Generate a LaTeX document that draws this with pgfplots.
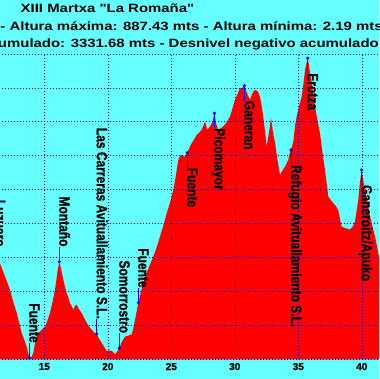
\documentclass[border=0pt]{standalone}
\usepackage{pgfplots}
\pgfplotsset{compat=1.18}
\usepackage{fontspec}
\usepackage{graphicx}
\setmainfont{Liberation Sans}
\newfontfamily\stretchfont{Liberation Sans}[FakeStretch=1.245]
\newfontfamily\labelfont{Liberation Sans}[BoldFeatures={FakeBold=1.2}]
\definecolor{bgcyan}{RGB}{102,255,255}
\definecolor{profred}{RGB}{255,0,0}
\definecolor{gridblue}{RGB}{0,0,255}

\pgfplotstableread{
km alt
10.5 240
10.8 270
11.12 290
11.3 288
11.51 283
11.9 245
12.30 205
12.55 170
12.83 137
13.22 78
13.45 55
13.61 38
13.82 4
14.0 8
14.13 19
14.30 55
14.40 67
14.55 80
14.66 82
14.85 90
15.06 97
15.25 115
15.45 137
15.65 170
15.84 205
16.05 262
16.18 288
16.30 270
16.50 234
16.65 212
16.76 195
16.90 182
17.02 166
17.15 158
17.28 146
17.42 158
17.55 161
17.70 150
17.94 137
18.10 125
18.34 108
18.50 98
18.73 88
18.90 80
19.13 75
19.30 62
19.52 49
19.75 35
19.91 25
20.10 27
20.31 25
20.45 20
20.57 15
20.75 24
20.91 33
21.10 52
21.35 67
21.60 70
21.88 74
22.00 90
22.14 116
22.40 167
22.65 205
22.93 244
23.20 268
23.58 303
23.85 330
24.11 362
24.40 398
24.64 431
24.90 462
25.16 499
25.35 540
25.55 588
25.70 600
25.82 602
26.08 597
26.26 609
26.45 625
26.61 637
26.80 648
27.00 661
27.20 668
27.39 676
27.55 690
27.65 701
27.75 688
27.83 676
28.05 686
28.25 700
28.39 725
28.52 695
28.70 676
29.09 686
29.35 698
29.62 715
30.02 765
30.25 785
30.41 799
30.60 800
30.75 806
31.00 780
31.20 765
31.40 785
31.59 794
31.80 790
31.98 774
32.10 750
32.24 715
32.40 665
32.51 627
32.70 670
32.85 711
33.00 670
33.17 637
33.35 590
33.56 544
33.75 556
33.96 568
34.21 588
34.30 605
34.43 617
34.61 642
34.75 690
34.87 715
35.05 745
35.27 774
35.40 810
35.53 853
35.74 887
35.90 850
36.06 814
36.32 745
36.50 705
36.71 666
36.90 610
37.10 558
37.36 480
37.55 470
37.76 460
37.95 452
38.15 440
38.30 410
38.42 391
38.68 387
38.85 385
39.07 382
39.30 392
39.46 406
39.60 440
39.72 470
39.85 520
39.99 558
40.10 530
40.25 499
40.45 460
40.65 421
40.85 390
41.04 362
41.20 332
41.35 303
41.70 250
42.0 220
}\profile

\begin{document}
\begin{tikzpicture}
\useasboundingbox (0pt,0pt) rectangle (379pt,379pt);
\clip (0pt,0pt) rectangle (379pt,379pt);
\fill[bgcyan] (0pt,0pt) rectangle (379pt,379pt);
\begin{axis}[
  at={(-19.2pt,19.5pt)}, anchor=south west,
  scale only axis, width=444.5pt, height=305.7pt,
  xmin=10, xmax=45, ymin=0, ymax=900,
  xtick={10,15,...,45}, ytick={0,100,...,900},
  grid=major,
  major grid style={gridblue, line width=0.5pt, dash pattern=on 1pt off 2pt},
  axis line style={draw=none},
  tick style={draw=none},
  axis on top,
  ticklabel style={font=\labelfont\bfseries\fontsize{10}{12}\selectfont},
  /pgf/number format/assume math mode=true,
]
\addplot[fill=profred, draw=none] table[x=km, y=alt] {\profile} \closedcycle;

\addplot[gridblue, line width=0.6pt, mark=none, unbounded coords=jump] coordinates {
(11.12,288) (11.12,332) (nan,nan)
(13.82,5) (13.82,49) (nan,nan)
(16.18,288) (16.18,332) (nan,nan)
(19.13,75) (19.13,119) (nan,nan)
(20.91,33) (20.91,77) (nan,nan)
(22.40,167) (22.40,211) (nan,nan)
(26.26,609) (26.26,565) (nan,nan)
(28.39,725) (28.39,681) (nan,nan)
(30.75,806) (30.75,762) (nan,nan)
(34.43,617) (34.43,573) (nan,nan)
(35.74,887) (35.74,843) (nan,nan)
(39.99,558) (39.99,514)
};

\addplot[only marks, mark=*, mark size=1.4pt, gridblue] coordinates {
(11.12,288) (13.82,5) (16.18,288) (19.13,75) (20.91,33) (22.40,167)
(26.26,609) (28.39,725) (30.75,806) (34.43,617) (35.74,887) (39.99,558)
};

\addplot[draw=none, mark=none, point meta=explicit symbolic,
  nodes near coords={\scalebox{1}[1.245]{\pgfplotspointmeta}},
  every node near coord/.append style={rotate=-90, anchor=base east, inner sep=0pt,
    font=\labelfont\bfseries\fontsize{12}{14}\selectfont, text=black}]
coordinates {
(11.12,332) [Luzuero]
(13.82,49) [Fuente]
(16.18,332) [Montaño]
(19.13,119) [Las Carreras Avituallamiento S.L.]
(20.91,77) [Somorrostro]
(22.40,211) [Fuente]
};

\addplot[draw=none, mark=none, point meta=explicit symbolic,
  nodes near coords={\scalebox{1}[1.245]{\pgfplotspointmeta}},
  every node near coord/.append style={rotate=-90, anchor=base west, inner sep=0pt,
    font=\labelfont\bfseries\fontsize{12}{14}\selectfont, text=black}]
coordinates {
(26.26,565) [Fuente]
(28.39,681) [Picomayor]
(30.75,762) [Ganeran]
(34.43,573) [Refugio Avituallamiento S.L.]
(35.74,843) [Erotza]
(39.99,514) [Ganeroitz/Apuko]
};
\end{axis}
\node[anchor=base west, inner sep=0pt, font={\fontsize{12}{14}\stretchfont\bfseries}] at (20.5pt,366pt) {XIII Martxa "La Romaña"};
\node[anchor=base west, inner sep=0pt, font={\fontsize{12}{14}\stretchfont\bfseries}] at (0.3pt,348.5pt) {- Altura máxima: 887.43 mts - Altura mínima: 2.19 mts};
\node[anchor=base east, inner sep=0pt, font={\fontsize{12}{14}\stretchfont\bfseries}] at (379pt,331pt) {Desnivel positivo acumulado: 3331.68 mts - Desnivel negativo acumulado};
\end{tikzpicture}
\end{document}
